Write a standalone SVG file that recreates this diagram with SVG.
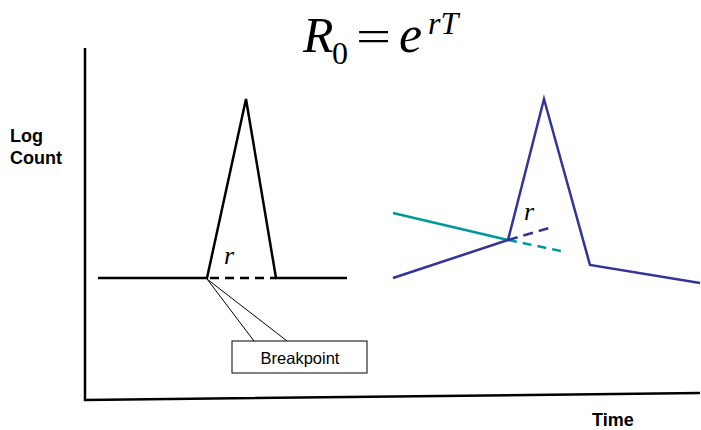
<svg xmlns="http://www.w3.org/2000/svg" width="701" height="430" viewBox="0 0 701 430">
<style>
.blk{fill:none;stroke:#000;stroke-width:2.5;stroke-linejoin:miter}
.blu{fill:none;stroke:#333399;stroke-width:2.5}
.teal{fill:none;stroke:#009999;stroke-width:2.5}
.dash{stroke-dasharray:9,6}
.lab{font-family:"Liberation Sans",Arial,sans-serif;font-weight:bold;font-size:18px;fill:#000}
.math{font-family:"Liberation Serif","Times New Roman",serif;font-style:italic;fill:#000}
</style>
<rect width="701" height="430" fill="#fff"/>
<g id="title">
<text class="math" x="303" y="52" font-size="50">R</text>
<text x="332" y="64" font-family="Liberation Serif,serif" font-size="32">0</text>
<text x="0" y="52" font-family="Liberation Serif,serif" font-size="46" transform="translate(356,0) scale(1.35,1)">=</text>
<text class="math" x="399" y="52" font-size="52">e</text>
<text class="math" x="428" y="34" font-size="32">rT</text>
</g>
<g id="axes">
<path class="blk" d="M85,48 L85,400 L700,393"/>
</g>
<g id="labels">
<text class="lab" x="10" y="142">Log</text>
<text class="lab" x="10" y="164">Count</text>
<text class="lab" x="592" y="426">Time</text>
</g>
<g id="connectors">
<g id="left-curve">
<path class="blk" d="M98,278 L207,278 L246,99 L276,278 L347,278"/>
<path class="blk dash" d="M210,278 L276,278"/>
<text class="math" x="224" y="264" font-size="26">r</text>
</g>
<g id="right-curve">
<path class="teal" d="M393,213 L508,240"/>
<path class="teal dash" d="M508,240 L566,252"/>
<path class="blu" d="M393,278 L508,240 L544,99 L590,265 L700,283"/>
<path class="blu" stroke-dasharray="10,6" d="M508,240 L549,228"/>
<text class="math" x="524" y="220" font-size="26">r</text>
</g>
</g>
<g id="breakpoint">
<path d="M207,279 L254,341 M207,279 L287,341" fill="none" stroke="#000" stroke-width="1"/>
<rect x="232" y="341" width="135" height="32" fill="#fff" stroke="#000" stroke-width="1"/>
<text x="300" y="364" text-anchor="middle" font-family="Liberation Sans,Arial,sans-serif" font-size="16.5">Breakpoint</text>
</g>
</svg>
